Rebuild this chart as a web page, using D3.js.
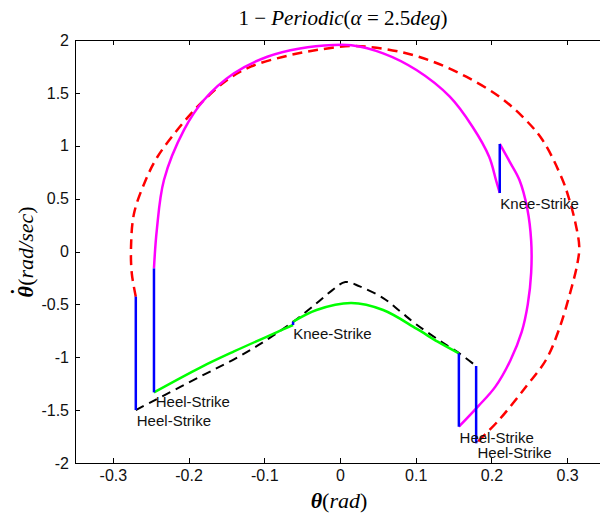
<!DOCTYPE html>
<html>
<head>
<meta charset="utf-8">
<script src="https://cdn.jsdelivr.net/npm/d3@7"></script>
<style>
  html, body { margin: 0; padding: 0; background: #fff; }
  svg { display: block; }
</style>
</head>
<body>
<div id="chart"></div>
<script>
// phase portrait: theta (rad) vs theta-dot (rad/sec)
// unlocked swing, after heel strike (solid magenta)
let swingA = [
  [-0.2457, -0.16], [-0.242, 0.20], [-0.2325, 0.676], [-0.206, 1.15],
  [-0.180, 1.43], [-0.140, 1.685], [-0.096, 1.842], [-0.053, 1.92],
  [-0.009, 1.953], [0.015, 1.95], [0.057, 1.874], [0.101, 1.716],
  [0.145, 1.464], [0.175, 1.18], [0.197, 0.896], [0.206, 0.676],
  [0.211, 0.553]
];
// locked, after knee strike (solid magenta)
let lockedA = [
  [0.211, 1.017], [0.224, 0.85], [0.237, 0.676], [0.2475, 0.40],
  [0.2525, 0.10], [0.2525, -0.20], [0.248, -0.50], [0.240, -0.76],
  [0.225, -1.03], [0.205, -1.28], [0.183, -1.46], [0.157, -1.657]
];
// stance leg (solid green), split by the small knee strike
let stanceA1 = [
  [0.157, -0.963], [0.129, -0.853], [0.101, -0.73], [0.057, -0.553],
  [0.015, -0.487], [-0.031, -0.553], [-0.062, -0.664]
];
let stanceA2 = [
  [-0.062, -0.695], [-0.083, -0.762], [-0.140, -0.945], [-0.184, -1.095],
  [-0.2457, -1.332]
];
// second gait (dashed red, dashed black)
let swingB = [
  [-0.2697, -0.427], [-0.275, -0.206], [-0.276, 0.045], [-0.272, 0.361],
  [-0.2566, 0.676], [-0.241, 0.896], [-0.215, 1.149], [-0.184, 1.4],
  [-0.149, 1.622], [-0.118, 1.748], [-0.0746, 1.842], [-0.031, 1.905],
  [0.013, 1.943], [0.035, 1.937], [0.079, 1.889], [0.1228, 1.795],
  [0.1667, 1.653], [0.2105, 1.464], [0.241, 1.275], [0.2675, 1.054],
  [0.294, 0.676], [0.303, 0.487], [0.311, 0.267], [0.316, 0.045],
  [0.3136, -0.112], [0.305, -0.364], [0.289, -0.742], [0.272, -1.026],
  [0.2456, -1.278], [0.21, -1.593], [0.1798, -1.814]
];
let stanceB = [
  [-0.2697, -1.499], [-0.2457, -1.41], [-0.184, -1.18], [-0.140, -1.02],
  [-0.100, -0.85], [-0.062, -0.665], [-0.031, -0.49], [-0.010, -0.365],
  [0.007, -0.288], [0.026, -0.33], [0.057, -0.44], [0.080, -0.57],
  [0.101, -0.69], [0.130, -0.835], [0.158, -0.965], [0.1798, -1.083]
];
// impact jumps (blue)
let jumps = [
  [[-0.2457, -0.16], [-0.2457, -1.332]],
  [[0.157, -0.963], [0.157, -1.657]],
  [[-0.2697, -0.427], [-0.2697, -1.499]],
  [[0.1798, -1.083], [0.1798, -1.814]],
  [[0.211, 0.553], [0.211, 1.017]],
  [[-0.062, -0.664], [-0.062, -0.695]]
];
let eventLabels = [
  { text: 'Knee-Strike', x: 0.2118, y: 0.402 },
  { text: 'Knee-Strike', x: -0.0618, y: -0.832 },
  { text: 'Heel-Strike', x: -0.2434, y: -1.473 },
  { text: 'Heel-Strike', x: -0.2684, y: -1.650 },
  { text: 'Heel-Strike', x: 0.1579, y: -1.811 },
  { text: 'Heel-Strike', x: 0.1816, y: -1.956 }
];
let xTicks = [-0.3, -0.2, -0.1, 0, 0.1, 0.2, 0.3];
let yTicks = [-2, -1.5, -1, -0.5, 0, 0.5, 1, 1.5, 2];
let titleParts = [
  ['1 \u2212 ', false], ['Periodic', true], ['(', false], ['\u03b1', true],
  [' = 2.5', false], ['deg', true], [')', false]
];

let width = 600;
let height = 518;
let plotLeft = 75, plotRight = 605, plotTop = 40, plotBottom = 463;
let sansFont = '"Liberation Sans", Arial, sans-serif';
let mathFont = '"Liberation Serif", "Times New Roman", serif';

let svg = d3.select('#chart')
  .append('svg')
  .attr('width', width)
  .attr('height', height);

svg.append('rect')
  .attr('width', width)
  .attr('height', height)
  .attr('fill', '#fff');

let x = d3.scaleLinear().domain([-0.35, 0.35]).range([plotLeft, plotRight]);
let y = d3.scaleLinear().domain([-2, 2]).range([plotBottom, plotTop]);

let fmt = d => String(d);

// axes box with inward ticks
let drawAxis = (axis, tx, ty, labels) => {
  let g = svg.append('g')
    .attr('transform', `translate(${tx},${ty})`)
    .call(axis)
    .style('font-family', sansFont)
    .style('font-size', '16px');
  g.select('.domain').attr('stroke', '#000').attr('shape-rendering', 'crispEdges');
  g.selectAll('.tick line').attr('stroke', '#000').attr('shape-rendering', 'crispEdges');
  g.selectAll('.tick text').attr('fill', '#111');
  if (!labels) g.selectAll('.tick text').remove();
  return g;
};

drawAxis(d3.axisBottom(x).tickValues(xTicks).tickFormat(fmt)
  .tickSize(-5).tickSizeOuter(0).tickPadding(7), 0, plotBottom, true);
drawAxis(d3.axisTop(x).tickValues(xTicks).tickSize(-5).tickSizeOuter(0), 0, plotTop, false);
drawAxis(d3.axisLeft(y).tickValues(yTicks).tickFormat(fmt)
  .tickSize(-5).tickSizeOuter(0).tickPadding(6), plotLeft, 0, true);
drawAxis(d3.axisRight(y).tickValues(yTicks).tickSize(-5).tickSizeOuter(0), plotRight, 0, false);

let line = d3.line()
  .x(d => x(d[0]))
  .y(d => y(d[1]))
  .curve(d3.curveCatmullRom.alpha(0.5));

let drawCurve = (points, color, dash, w) => {
  svg.append('path')
    .datum(points)
    .attr('d', line)
    .attr('fill', 'none')
    .attr('stroke', color)
    .attr('stroke-width', w)
    .attr('stroke-dasharray', dash)
    .attr('stroke-linejoin', 'round');
};

drawCurve(swingB, '#ff0000', '10,6', 2.5);
drawCurve(stanceB, '#000000', '9,6', 2);
drawCurve(swingA, '#ff00ff', null, 2.5);
drawCurve(lockedA, '#ff00ff', null, 2.5);
drawCurve(stanceA1, '#00ff00', null, 2.5);
drawCurve(stanceA2, '#00ff00', null, 2.5);

svg.append('g')
  .selectAll('path')
  .data(jumps)
  .enter()
  .append('path')
  .attr('d', d3.line().x(d => x(d[0])).y(d => y(d[1])))
  .attr('fill', 'none')
  .attr('stroke', '#0000ff')
  .attr('stroke-width', 2.5);

svg.append('g')
  .selectAll('text')
  .data(eventLabels)
  .enter()
  .append('text')
  .attr('x', d => x(d.x))
  .attr('y', d => y(d.y))
  .style('font-family', sansFont)
  .style('font-size', '15px')
  .attr('fill', '#111')
  .text(d => d.text);

// title and axis labels, LaTeX style
let title = svg.append('text')
  .attr('x', 343)
  .attr('y', 25)
  .attr('text-anchor', 'middle')
  .style('font-family', mathFont)
  .style('font-size', '21px');
titleParts.forEach(p => {
  title.append('tspan')
    .style('font-style', p[1] ? 'italic' : 'normal')
    .text(p[0]);
});

let xLabel = svg.append('text')
  .attr('x', 339)
  .attr('y', 508)
  .attr('text-anchor', 'middle')
  .style('font-family', mathFont)
  .style('font-size', '22px');
xLabel.append('tspan').style('font-style', 'italic').style('font-weight', 'bold').text('\u03b8');
xLabel.append('tspan').text('(');
xLabel.append('tspan').style('font-style', 'italic').text('rad');
xLabel.append('tspan').text(')');

// theta with a dot on top
let yLabel = svg.append('text')
  .attr('transform', 'translate(33,252) rotate(-90)')
  .attr('text-anchor', 'middle')
  .style('font-family', mathFont)
  .style('font-size', '22px');
yLabel.append('tspan').style('font-style', 'italic').style('font-weight', 'bold').text('\u03b8');
yLabel.append('tspan').attr('dx', -9).attr('dy', -7).style('font-weight', 'bold').text('\u02d9');
yLabel.append('tspan').attr('dx', 2).attr('dy', 7).text('(');
yLabel.append('tspan').style('font-style', 'italic').text('rad/sec');
yLabel.append('tspan').text(')');
</script>
</body>
</html>
